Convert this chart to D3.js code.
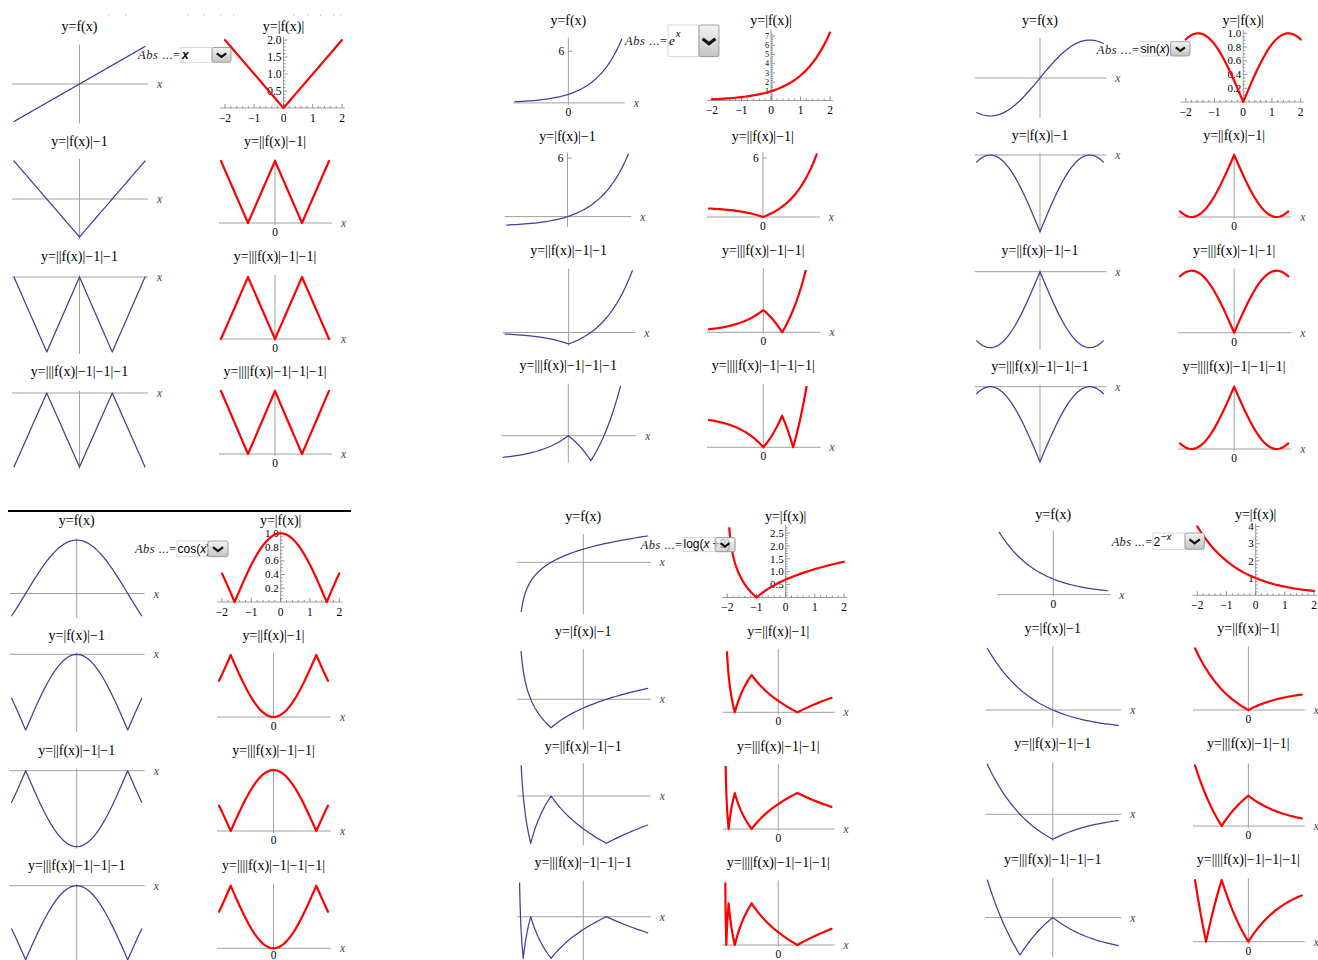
<!DOCTYPE html>
<html><head><meta charset="utf-8">
<script src="https://cdn.jsdelivr.net/npm/d3@7"></script>
<style>body{margin:0;background:#fff}svg{display:block}</style>
</head><body>
<svg id="c" width="1318" height="960"></svg>
<script>
// ---------- DATA (sampled function values) ----------
const xGrid = [-2,-1.9,-1.8,-1.7,-1.6,-1.5,-1.4,-1.3,-1.2,-1.1,-1,-0.9,-0.8,-0.7,-0.6,-0.5,-0.4,-0.3,-0.2,-0.1,0,0.1,0.2,0.3,0.4,0.5,0.6,0.7,0.8,0.9,1,1.1,1.2,1.3,1.4,1.5,1.6,1.7,1.8,1.9,2];
const fLinear = [-2,-1.9,-1.8,-1.7,-1.6,-1.5,-1.4,-1.3,-1.2,-1.1,-1,-0.9,-0.8,-0.7,-0.6,-0.5,-0.4,-0.3,-0.2,-0.1,0,0.1,0.2,0.3,0.4,0.5,0.6,0.7,0.8,0.9,1,1.1,1.2,1.3,1.4,1.5,1.6,1.7,1.8,1.9,2];
const xExp = [-2,-1.9,-1.8,-1.7,-1.6,-1.5,-1.4,-1.3,-1.2,-1.1,-1,-0.9,-0.8,-0.7,-0.6,-0.5,-0.4,-0.3,-0.2,-0.1,0,0.1,0.2,0.3,0.4,0.5,0.6,0.6931,0.7,0.8,0.9,1,1.0986,1.1,1.2,1.3,1.4,1.5,1.6,1.7,1.8,1.9,2];
const fExp = [0.1353,0.1496,0.1653,0.1827,0.2019,0.2231,0.2466,0.2725,0.3012,0.3329,0.3679,0.4066,0.4493,0.4966,0.5488,0.6065,0.6703,0.7408,0.8187,0.9048,1,1.1052,1.2214,1.3499,1.4918,1.6487,1.8221,2,2.0138,2.2255,2.4596,2.7183,3,3.0042,3.3201,3.6693,4.0552,4.4817,4.9530,5.4739,6.0496,6.6859,7.3891];
const xSin = [-2,-1.9,-1.8,-1.7,-1.6,-1.5708,-1.5,-1.4,-1.3,-1.2,-1.1,-1,-0.9,-0.8,-0.7,-0.6,-0.5,-0.4,-0.3,-0.2,-0.1,0,0.1,0.2,0.3,0.4,0.5,0.6,0.7,0.8,0.9,1,1.1,1.2,1.3,1.4,1.5,1.5708,1.6,1.7,1.8,1.9,2];
const fSin = [-0.9093,-0.9463,-0.9738,-0.9917,-0.9996,-1,-0.9975,-0.9854,-0.9636,-0.9320,-0.8912,-0.8415,-0.7833,-0.7174,-0.6442,-0.5646,-0.4794,-0.3894,-0.2955,-0.1987,-0.0998,0,0.0998,0.1987,0.2955,0.3894,0.4794,0.5646,0.6442,0.7174,0.7833,0.8415,0.8912,0.9320,0.9636,0.9854,0.9975,1,0.9996,0.9917,0.9738,0.9463,0.9093];
const xCos = xSin;
const fCos = [-0.4161,-0.3233,-0.2272,-0.1288,-0.0292,0,0.0707,0.1700,0.2675,0.3624,0.4536,0.5403,0.6216,0.6967,0.7648,0.8253,0.8776,0.9211,0.9553,0.9801,0.9950,1,0.9950,0.9801,0.9553,0.9211,0.8776,0.8253,0.7648,0.6967,0.6216,0.5403,0.4536,0.3624,0.2675,0.1700,0.0707,0,-0.0292,-0.1288,-0.2272,-0.3233,-0.4161];
const xLog = [-1.99,-1.98,-1.97,-1.96,-1.95,-1.94,-1.93,-1.92,-1.9,-1.8647,-1.85,-1.8,-1.75,-1.7,-1.6321,-1.6,-1.5,-1.4,-1.3,-1.2,-1.1,-1,-0.9,-0.8,-0.7,-0.6,-0.5,-0.4,-0.3,-0.2,-0.1,0,0.1,0.2,0.3,0.4,0.5,0.6,0.7,0.7183,0.8,0.9,1,1.1,1.2,1.3,1.4,1.5,1.6,1.7,1.8,1.9,2];
const fLog = [-4.6052,-3.9120,-3.5066,-3.2189,-2.9957,-2.8134,-2.6593,-2.5257,-2.3026,-2,-1.8971,-1.6094,-1.3863,-1.2040,-1,-0.9163,-0.6931,-0.5108,-0.3567,-0.2231,-0.1054,0,0.0953,0.1823,0.2624,0.3365,0.4055,0.4700,0.5306,0.5878,0.6419,0.6931,0.7419,0.7885,0.8329,0.8755,0.9163,0.9555,0.9933,1,1.0296,1.0647,1.0986,1.1314,1.1632,1.1939,1.2238,1.2528,1.2809,1.3083,1.3350,1.3610,1.3863];
const xPow = [-2,-1.9,-1.8,-1.7,-1.6,-1.585,-1.5,-1.4,-1.3,-1.2,-1.1,-1,-0.9,-0.8,-0.7,-0.6,-0.5,-0.4,-0.3,-0.2,-0.1,0,0.1,0.2,0.3,0.4,0.5,0.6,0.7,0.8,0.9,1,1.1,1.2,1.3,1.4,1.5,1.6,1.7,1.8,1.9,2];
const fPow = [4,3.7321,3.4822,3.2490,3.0314,3,2.8284,2.6390,2.4623,2.2974,2.1435,2,1.8661,1.7411,1.6245,1.5157,1.4142,1.3195,1.2311,1.1487,1.0718,1,0.9330,0.8706,0.8123,0.7579,0.7071,0.6598,0.6156,0.5743,0.5359,0.5,0.4665,0.4353,0.4061,0.3789,0.3536,0.3299,0.3078,0.2872,0.2679,0.25];

const leftTitles  = ["y=f(x)", "y=|f(x)|\u22121", "y=||f(x)|\u22121|\u22121", "y=|||f(x)|\u22121|\u22121|\u22121"];
const rightTitles = ["y=|f(x)|", "y=||f(x)|\u22121|", "y=|||f(x)|\u22121|\u22121|", "y=||||f(x)|\u22121|\u22121|\u22121|"];
const xTickVals = [-2,-1,0,1,2];
const yTicksLinear = [0.5,1,1.5,2];
const yTicksExp = [1,2,3,4,5,6,7];
const yTicksSin = [0.2,0.4,0.6,0.8,1];
const yTicksCos = [0.2,0.4,0.6,0.8,1];
const yTicksLog = [0.5,1,1.5,2,2.5];
const yTicksPow = [1,2,3,4];

// ---------- LAYOUT ----------
// box: [px of x=-2, px of x=2, px of y=0, px per unit, clipLo, clipHi]
const panels = [
 {xs:xGrid, f:fLinear, titleY:[31,146,261,376],
  left:[[14,145,84,18.75],[14,145,199,38],[14,145,277,75],[14,145,393,74]],
  right:[[225,342,108,34],[221,329,223,62],[221,329,339,62],[221,329,454,63]],
  r1:{ticks:yTicksLinear, fmt:".1f", minor:0.1, fs:11.5}, zeroL:[0,0,0,0], sixL:[0,0,0,0], zeroR:[0,1,1,1], sixR:[0,0,0,0],
  pop:{tx:138, ty:58.5, b0:181, b1:212, t0:47.5, t1:62.3, btn:231, kind:"x"}},
 {xs:xExp, f:fExp, titleY:[25,141,255,370],
  left:[[515,621.7,102.9,8.6],[506.7,628.3,216.6,9.75],[505,632.3,332.5,11.47],[503.3,633.3,435.7,25,null,2.0]],
  right:[[712,830,100.5,9.2],[709,816.7,217,9.81],[709,817.6,332.3,22.3,null,2.79],[709,817.6,447.3,31.6,null,1.94]],
  r1:{ticks:yTicksExp, fmt:"d", minor:0.2, fs:8.2}, zeroL:[1,0,0,0], sixL:[1,1,0,0], zeroR:[0,1,1,1], sixR:[0,1,0,0],
  pop:{tx:625, ty:44.5, b0:668, b1:699, t0:25, t1:56.7, btn:719, kind:"exp"}},
 {xs:xSin, f:fSin, titleY:[25,140,255,371],
  left:[[976.7,1103.3,78,38],[976.7,1103.3,155,76.7],[976.7,1103.3,271.7,76],[976.7,1103.3,386.7,75]],
  right:[[1185.7,1300.7,102,68.75],[1180,1288.3,217,62],[1180,1288.3,332.7,62],[1180,1288.3,449,62.3]],
  r1:{ticks:yTicksSin, fmt:".1f", minor:0.05, fs:11}, zeroL:[0,0,0,0], sixL:[0,0,0,0], zeroR:[0,1,1,1], sixR:[0,0,0,0],
  pop:{tx:1096.7, ty:54, b0:1140, b1:1170.7, t0:41.7, t1:56, btn:1190, kind:"sin"}},
 {xs:xCos, f:fCos, titleY:[525,640,755,870],
  left:[[11.7,141.7,593.5,53.5],[11.7,141.7,654.3,75.7],[11.7,141.7,770.7,76],[11.7,141.7,885.7,74]],
  right:[[222,339.3,602,68.75],[219,328,717,62],[219,328,831,61],[219,328,948.3,62.6]],
  r1:{ticks:yTicksCos, fmt:".1f", minor:0.05, fs:11}, zeroL:[0,0,0,0], sixL:[0,0,0,0], zeroR:[0,1,1,1], sixR:[0,0,0,0],
  pop:{tx:135, ty:553, b0:177, b1:208, t0:541, t1:556.7, btn:228, kind:"cos"}},
 {xs:xLog, f:fLog, titleY:[521,636,751,867],
  left:[[518.9,647.7,562.3,18.97,-2.62,null],[518.9,647.7,699.3,28.4,null,1.70],[518.9,647.7,796,47.3,null,0.65],[518.9,647.7,916.7,41.7,null,0.82]],
  right:[[727.3,844,597.5,25.8,null,2.72],[725,831.5,712.3,37.3,null,1.64],[725,831.5,829,36,null,1.75],[725,831.5,945,41.7,null,1.5]],
  r1:{ticks:yTicksLog, fmt:".1f", minor:0.1, fs:11}, zeroL:[0,0,0,0], sixL:[0,0,0,0], zeroR:[0,1,1,1], sixR:[0,0,0,0],
  pop:{tx:640.7, ty:549, b0:683, b1:735, t0:537.7, t1:551.7, btn:735, btn0:715, kind:"log"}},
 {xs:xPow, f:fPow, titleY:[519,633,748,864],
  left:[[999.3,1107.3,594.6,15.57],[987.3,1118.3,710,20.57],[987.3,1118.3,814.3,25],[987.3,1118.3,917.5,37.5]],
  right:[[1197.3,1314,595.3,17.2],[1195,1301.7,710,20.57],[1195,1301.7,826,30.3],[1195,1301.7,941.7,61.7]],
  r1:{ticks:yTicksPow, fmt:"d", minor:0.2, fs:11}, zeroL:[1,0,0,0], sixL:[0,0,0,0], zeroR:[0,1,1,1], sixR:[0,0,0,0],
  pop:{tx:1111.7, ty:546, b0:1153, b1:1185, t0:533, t1:549.3, btn:1204.3, kind:"pow"}}
];

const AXIS = "#a0a0a0", BLUE = "#3f3f9f", RED = "#ff0000", SERIF = "'Liberation Serif','DejaVu Serif',serif", SANS = "'Liberation Sans',Arial,sans-serif";
const TICKFS = 11.5;
const svg = d3.select("#c");
const defs = svg.append("defs");
const grad = defs.append("linearGradient").attr("id","btng").attr("x1",0).attr("y1",0).attr("x2",0).attr("y2",1);
grad.append("stop").attr("offset","0%").attr("stop-color","#f4f4f4");
grad.append("stop").attr("offset","100%").attr("stop-color","#c4c4c4");
let cid = 0;

function chain(f){
  const r1 = f.map(Math.abs), b2 = r1.map(v=>v-1), r2 = b2.map(Math.abs),
        b3 = r2.map(v=>v-1), r3 = b3.map(Math.abs), b4 = r3.map(v=>v-1), r4 = b4.map(Math.abs);
  return {left:[f,b2,b3,b4], right:[r1,r2,r3,r4]};
}

function sub(xs, ys, box, o){
  const [x0,x1,y0,k,cLo,cHi] = box;
  const lo = (cLo!=null) ? cLo : d3.min(ys);
  const hi = (cHi!=null) ? cHi : d3.max(ys);
  const x = d3.scaleLinear().domain([-2,2]).range([x0,x1]);
  const y = d3.scaleLinear().domain([0,1]).range([y0,y0-k]);
  const g = svg.append("g");
  const ax = y(0), top = y(hi), bot = y(lo);
  const yTop = Math.min(top, ax), yBot = Math.max(bot, ax);
  const ticked = !!o.r1;
  // axes
  g.append("line").attr("x1", x0-(ticked?5:2)).attr("x2", x1+3).attr("y1", ax).attr("y2", ax)
    .attr("stroke", AXIS).attr("stroke-width", 1);
  g.append("line").attr("x1", x(0)).attr("x2", x(0)).attr("y1", yTop-(ticked?3:2)).attr("y2", yBot+(ticked?0:2))
    .attr("stroke", AXIS).attr("stroke-width", 1);
  if (ticked) {
    for (let t=-2; t<=2.0001; t+=0.2) {
      const major = Math.abs(t-Math.round(t))<1e-6;
      g.append("line").attr("x1",x(t)).attr("x2",x(t)).attr("y1",ax).attr("y2",ax-(major?4:2)).attr("stroke","#777").attr("stroke-width",0.8);
    }
    xTickVals.forEach(t=>{
      g.append("text").attr("x",x(t)).attr("y",ax+13.5).attr("text-anchor","middle").attr("font-family",SERIF).attr("font-size",TICKFS)
        .text(t<0 ? "\u2212"+Math.abs(t) : String(t));
    });
    for (let v=o.r1.minor; v<=hi+1e-6; v+=o.r1.minor) {
      const major = o.r1.ticks.some(t=>Math.abs(t-v)<1e-6);
      g.append("line").attr("x1",x(0)).attr("x2",x(0)+(major?4:2)).attr("y1",y(v)).attr("y2",y(v)).attr("stroke","#777").attr("stroke-width",0.8);
    }
    const f = d3.format(o.r1.fmt);
    o.r1.ticks.forEach(v=>{
      g.append("text").attr("x",x(0)-2).attr("y",y(v)+o.r1.fs*0.34).attr("text-anchor","end").attr("font-family",SERIF).attr("font-size",o.r1.fs).text(f(v));
    });
  } else {
    g.append("text").attr("x", x1+12).attr("y", ax+4).attr("font-family",SERIF).attr("font-style","italic").attr("font-size",11.5).attr("fill","#444").text("x");
  }
  if (o.zero) g.append("text").attr("x",x(0)).attr("y",Math.min(ax+13, 959)).attr("text-anchor","middle").attr("font-family",SERIF).attr("font-size",TICKFS).text("0");
  if (o.six) {
    g.append("line").attr("x1",x(0)).attr("x2",x(0)+4).attr("y1",y(6)).attr("y2",y(6)).attr("stroke","#777").attr("stroke-width",0.8);
    g.append("text").attr("x",x(0)-4).attr("y",y(6)+4).attr("text-anchor","end").attr("font-family",SERIF).attr("font-size",TICKFS).text("6");
  }
  // curve
  const id = "cl"+(cid++);
  const sw = o.red ? 2.2 : 1.25;
  const padT = (cHi!=null) ? 0 : sw, padB = (cLo!=null) ? 0 : sw;
  defs.append("clipPath").attr("id",id).append("rect")
    .attr("x", x0-4).attr("y", top-padT).attr("width", x1-x0+8).attr("height", bot-top+padT+padB);
  const pts = ys.map((v,i)=>[xs[i], v]);
  g.append("path").attr("clip-path","url(#"+id+")")
    .attr("d", d3.line().x(d=>x(d[0])).y(d=>y(d[1]))(pts))
    .attr("fill","none").attr("stroke", o.red?RED:BLUE).attr("stroke-width", sw)
    .attr("stroke-linejoin","round").attr("stroke-linecap","round");
  // title
  svg.append("text").attr("x",(x0+x1)/2).attr("y",o.titleY).attr("text-anchor","middle")
    .attr("font-family",SERIF).attr("font-size",14).text(o.title);
}

function popup(p){
  const g = svg.append("g");
  const t = g.append("text").attr("x",p.tx).attr("y",p.ty).attr("font-family",SERIF).attr("font-size",12.5).attr("fill","#222")
    .attr("textLength", p.b0-p.tx-1).attr("lengthAdjust","spacing");
  t.append("tspan").attr("font-style","italic").text("Abs");
  t.append("tspan").text(" ...=");
  g.append("rect").attr("x",p.b0).attr("y",p.t0).attr("width",p.b1-p.b0).attr("height",p.t1-p.t0)
    .attr("fill","#fff").attr("stroke","#cfcfcf").attr("stroke-width",0.8);
  const bl = p.t1-3.5;
  if (p.kind==="x") {
    g.append("text").attr("x",p.b0+1).attr("y",bl).attr("font-family",SANS).attr("font-weight","bold").attr("font-style","italic").attr("font-size",12).text("x");
  } else if (p.kind==="exp") {
    g.append("text").attr("x",p.b0+1).attr("y",p.ty+0.5).attr("font-family",SERIF).attr("font-style","italic").attr("font-size",13).text("e");
    g.append("text").attr("x",p.b0+8).attr("y",p.ty-8).attr("font-family",SERIF).attr("font-style","italic").attr("font-size",10).text("x");
  } else if (p.kind==="sin" || p.kind==="cos" || p.kind==="log") {
    const tt = g.append("text").attr("x",p.b0+0.5).attr("y",bl).attr("font-family",SANS).attr("font-size",12);
    const pre = p.kind==="log" ? "log(" : p.kind+"(";
    tt.append("tspan").text(pre);
    tt.append("tspan").attr("font-style","italic").text("x");
    tt.append("tspan").text(p.kind==="log" ? " +2)" : ")");
  } else if (p.kind==="pow") {
    g.append("text").attr("x",p.b0+0.5).attr("y",bl).attr("font-family",SANS).attr("font-size",12).text("2");
    const s = g.append("text").attr("x",p.b0+8).attr("y",bl-6).attr("font-family",SANS).attr("font-size",9.5);
    s.append("tspan").text("\u2212");
    s.append("tspan").attr("font-style","italic").text("x");
  }
  const bx0 = (p.btn0!=null) ? p.btn0 : p.b1;
  const bw = p.btn - bx0, bh = p.t1 - p.t0;
  g.append("rect").attr("x",bx0).attr("y",p.t0).attr("width",bw).attr("height",bh).attr("rx",2)
    .attr("fill","url(#btng)").attr("stroke","#8a8a8a").attr("stroke-width",0.8)
    .attr("fill-opacity", p.btn0!=null ? 0.75 : 1);
  const cx = bx0+bw/2, cy = p.t0+bh/2, cw = Math.min(bw*0.32, bh*0.32), ch = cw*0.55;
  g.append("path").attr("d",`M${cx-cw},${cy-ch*0.6} L${cx},${cy+ch*0.8} L${cx+cw},${cy-ch*0.6}`)
    .attr("fill","none").attr("stroke","#111").attr("stroke-width", bh>25?3.2:2.2).attr("stroke-linejoin","miter");
}

// faint dots at top
const dotsX = [108,125,187,203,220,233,293,307,320,333,340];
dotsX.forEach(d=>svg.append("rect").attr("x",d).attr("y",14.5).attr("width",1.2).attr("height",1.2).attr("fill","#bdbdbd"));
// separator bar
svg.append("line").attr("x1",8).attr("x2",351).attr("y1",511).attr("y2",511).attr("stroke","#000").attr("stroke-width",2);

panels.forEach(P=>{
  const c = chain(P.f);
  for (let r=0; r<4; r++) {
    sub(P.xs, c.left[r], P.left[r], {red:false, zero:P.zeroL[r], six:P.sixL[r], title:leftTitles[r], titleY:P.titleY[r]});
    sub(P.xs, c.right[r], P.right[r], {red:true, zero:P.zeroR[r] && r>0, six:P.sixR[r], r1: r===0?P.r1:null, title:rightTitles[r], titleY:P.titleY[r]});
  }
});
panels.forEach(P=>popup(P.pop));
</script>
</body></html>
